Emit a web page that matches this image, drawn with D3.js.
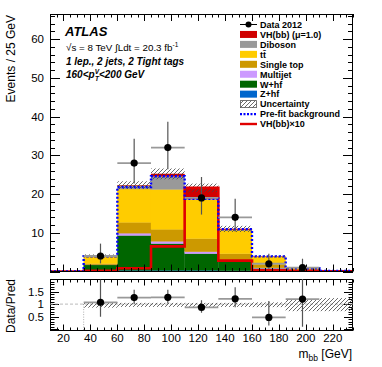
<!DOCTYPE html>
<html><head><meta charset="utf-8">
<script src="https://cdn.jsdelivr.net/npm/d3@7/dist/d3.min.js"></script>
<style>
html,body{margin:0;padding:0;background:#fff;}
svg text{font-family:"Liberation Sans",Arimo,Helvetica,Arial,sans-serif;}
</style></head>
<body>
<svg id="c" width="382" height="367"></svg>
<script>
// ---------------- data ----------------
const binLow = [10, 35, 60, 85, 110, 135, 160, 185, 210];
const binWidth = 25;
const zhf       = [0.02, 0.10, 0.3, 0.3, 0.3, 0.2, 0.10, 0.03, 0.01];
const whf       = [0.02, 1.60, 9.0, 6.9, 4.3, 2.4, 0.70, 0.12, 0.02];
const multijet  = [0.00, 0.05, 0.6, 0.6, 0.5, 0.2, 0.15, 0.05, 0.00];
const singletop = [0.01, 0.30, 2.8, 3.1, 3.4, 1.8, 0.80, 0.20, 0.02];
const ttbar     = [0.02, 1.90, 8.6, 10.3, 10.0, 6.1, 2.10, 0.45, 0.08];
const diboson   = [0.00, 0.05, 0.9, 3.4, 0.3, 0.1, 0.05, 0.02, 0.00];
const vh        = [0.00, 0.02, 0.1, 0.6, 2.8, 0.2, 0.02, 0.00, 0.00];
const uncert    = [0.03, 0.40, 1.0, 1.4, 1.1, 0.8, 0.30, 0.15, 0.05];
const prefit    = [0.03, 3.95, 21.8, 24.6, 18.8, 10.9, 3.9, 0.85, 0.15];
const vhx10     = [0.00, 0.20, 0.85, 6.5, 21.6, 2.8, 0.30, 0.15, 0.05];
const dataVal   = [0, 4, 28, 32, 19, 14, 2, 1, 0];
const dataErrLo = [0, 1.9, 5.3, 5.6, 4.3, 3.7, 1.3, 0.8, 0];
const dataErrHi = [0, 3.2, 6.3, 6.7, 5.4, 4.8, 2.6, 2.3, 0];
const ratioVal   = [null, 1.07, 1.26, 1.27, 0.87, 1.21, 0.47, 1.2, null];
const ratioErrLo = [null, 0.57, 0.27, 0.25, 0.21, 0.33, 0.32, 1.1, null];
const ratioErrHi = [null, 0.9, 0.31, 0.3, 0.28, 0.46, 0.65, 2.7, null];
const bandLo     = [null, 0.86, 0.89, 0.89, 0.89, 0.89, 0.88, 0.72, 0.72];
const bandHi     = [null, 1.08, 1.05, 1.05, 1.05, 1.05, 1.07, 1.20, 1.24];
const yTicksMain = [10, 20, 30, 40, 50, 60];
const yTicksRatio = [0.5, 1, 1.5];
const xTicks = [20, 40, 60, 80, 100, 120, 140, 160, 180, 200, 220];

const seriesKeys = ["zhf","whf","multijet","singletop","ttbar","diboson","vh"];
const seriesArr = {zhf, whf, multijet, singletop, ttbar, diboson, vh};
const colors = {vh:"#d00000", diboson:"#999999", ttbar:"#ffcc00", singletop:"#cc9900",
  multijet:"#cc99ff", whf:"#006600", zhf:"#0066cc"};

// ---------------- scales ----------------
const svg = d3.select("#c");
const X0 = 50, X1 = 353;
const xs = d3.scaleLinear().domain([10, 235]).range([X0, X1]);
const ys = d3.scaleLinear().domain([0, 66.5]).range([271.5, 14]);
const yr = d3.scaleLinear().domain([-0.05, 2.0]).range([330.5, 279]);

const defs = svg.append("defs");
const pat = defs.append("pattern").attr("id","hatch").attr("patternUnits","userSpaceOnUse")
  .attr("width",4).attr("height",4);
pat.append("path").attr("d","M-1,1 L1,-1 M0,4 L4,0 M3,5 L5,3").attr("stroke","#444").attr("stroke-width",0.8);
defs.append("clipPath").attr("id","clipMain").append("rect").attr("x",X0).attr("y",14).attr("width",X1-X0).attr("height",271.5-14);
defs.append("clipPath").attr("id","clipRatio").append("rect").attr("x",X0).attr("y",279).attr("width",X1-X0).attr("height",330.5-279);

// ---------------- stack ----------------
const table = binLow.map((lo,i)=>{const r={lo}; seriesKeys.forEach(k=>r[k]=seriesArr[k][i]); return r;});
const stacked = d3.stack().keys(seriesKeys)(table);
const gMain = svg.append("g").attr("clip-path","url(#clipMain)");
stacked.forEach(layer=>{
  gMain.append("g").selectAll("rect").data(layer).join("rect")
    .attr("x", d=>xs(d.data.lo)).attr("width", d=>xs(d.data.lo+binWidth)-xs(d.data.lo))
    .attr("y", d=>ys(d[1])).attr("height", d=>Math.max(0, ys(d[0])-ys(d[1])))
    .attr("fill", colors[layer.key]).attr("stroke", colors[layer.key]).attr("stroke-width",0.3);
});
const totals = binLow.map((_,i)=>d3.sum(seriesKeys,k=>seriesArr[k][i]));
gMain.append("g").selectAll("rect").data(binLow).join("rect")
  .attr("x", d=>xs(d)).attr("width", xs(binLow[1])-xs(binLow[0]))
  .attr("y", (d,i)=>ys(totals[i]+uncert[i]))
  .attr("height", (d,i)=>ys(Math.max(0,totals[i]-uncert[i]))-ys(totals[i]+uncert[i]))
  .attr("fill","url(#hatch)");

// step lines
function stepPoints(vals){
  const pts=[];
  vals.forEach((v,i)=>{pts.push([binLow[i],v]);pts.push([binLow[i]+binWidth,v]);});
  return pts;
}
const stepLine = d3.line().x(d=>xs(d[0])).y(d=>ys(d[1]));
gMain.append("path").attr("d", stepLine(stepPoints(vhx10))).attr("fill","none")
  .attr("stroke","#e00000").attr("stroke-width",2.6);
gMain.append("path").attr("d", stepLine(stepPoints(prefit))).attr("fill","none")
  .attr("stroke","#0000ff").attr("stroke-width",2.4).attr("stroke-dasharray","2,2");

// main axes ticks (inside)
const axG = svg.append("g").attr("stroke","#000").attr("stroke-width",1);
function yTicksIn(scale, x0, x1, from, to, step, majorEvery, majL, minL){
  for(let v=from; v<=to+1e-9; v+=step){
    const isMaj = Math.abs(Math.round(v/majorEvery)*majorEvery - v) < 1e-6;
    const L = isMaj?majL:minL; const y = Math.round(scale(v))+0.5;
    axG.append("line").attr("x1",x0).attr("x2",x0+L).attr("y1",y).attr("y2",y);
    axG.append("line").attr("x1",x1).attr("x2",x1-L).attr("y1",y).attr("y2",y);
  }
}
function xTicksIn(y0, y1, majL, minL){
  for(let v=10; v<=235; v+=5){
    const isMaj = v%20===0; const L=isMaj?majL:minL; const x=Math.round(xs(v))+0.5;
    axG.append("line").attr("x1",x).attr("x2",x).attr("y1",y0).attr("y2",y0-L);
    axG.append("line").attr("x1",x).attr("x2",x).attr("y1",y1).attr("y2",y1+L);
  }
}
yTicksIn(ys, X0, X1, 0, 66, 2, 10, 10, 5);
xTicksIn(271.5, 14, 7, 3.5);

// data points
const gData = svg.append("g");
binLow.forEach((lo,i)=>{
  if(dataVal[i]<=0) return;
  const cx = xs(lo+binWidth/2);
  gData.append("line").attr("x1",xs(lo)).attr("x2",xs(lo+binWidth)).attr("y1",ys(dataVal[i])).attr("y2",ys(dataVal[i]))
    .attr("stroke","#999").attr("stroke-width",1.8);
  gData.append("line").attr("x1",cx).attr("x2",cx).attr("y1",ys(dataVal[i]-dataErrLo[i])).attr("y2",ys(dataVal[i]+dataErrHi[i]))
    .attr("stroke","#555").attr("stroke-width",1.2);
  gData.append("circle").attr("cx",cx).attr("cy",ys(dataVal[i])).attr("r",3.6).attr("fill","#000");
});

// frames
svg.append("rect").attr("x",X0+0.5).attr("y",14.5).attr("width",X1-X0-1).attr("height",271.5-14.5)
  .attr("fill","none").attr("stroke","#000").attr("stroke-width",1);
svg.append("rect").attr("x",X0+0.5).attr("y",279.5).attr("width",X1-X0-1).attr("height",330.5-279.5)
  .attr("fill","none").attr("stroke","#000").attr("stroke-width",1);

// main y labels
svg.append("g").selectAll("text").data(yTicksMain).join("text")
  .attr("x",44).attr("y",d=>ys(d)+4).attr("text-anchor","end").attr("font-size",11.5).text(d=>d);
svg.append("text").attr("transform","translate(15,15) rotate(-90)").attr("text-anchor","end")
  .attr("font-size",12).text("Events / 25 GeV");

// ---------------- ratio ----------------
const gR = svg.append("g").attr("clip-path","url(#clipRatio)");
gR.append("line").attr("x1",X0).attr("x2",X1).attr("y1",yr(1)).attr("y2",yr(1))
  .attr("stroke","#aaa").attr("stroke-dasharray","3,2").attr("stroke-width",0.8);
gR.append("line").attr("x1",xs(35)).attr("x2",xs(35)).attr("y1",yr(1)).attr("y2",yr(-0.05))
  .attr("stroke","#999").attr("stroke-dasharray","1,1.5").attr("stroke-width",0.8);
gR.append("g").selectAll("rect").data(binLow).join("rect")
  .filter((d,i)=>bandLo[i]!==null)
  .attr("x",d=>xs(d)).attr("width",xs(binLow[1])-xs(binLow[0]))
  .attr("y",(d)=>yr(bandHi[binLow.indexOf(d)])).attr("height",d=>{const i=binLow.indexOf(d);return yr(bandLo[i])-yr(bandHi[i]);})
  .attr("fill","url(#hatch)");
binLow.forEach((lo,i)=>{
  if(ratioVal[i]===null) return;
  const cx=xs(lo+binWidth/2);
  gR.append("line").attr("x1",xs(lo)).attr("x2",xs(lo+binWidth)).attr("y1",yr(ratioVal[i])).attr("y2",yr(ratioVal[i]))
    .attr("stroke","#999").attr("stroke-width",1.8);
  gR.append("line").attr("x1",cx).attr("x2",cx).attr("y1",yr(ratioVal[i]-ratioErrLo[i])).attr("y2",yr(ratioVal[i]+ratioErrHi[i]))
    .attr("stroke","#555").attr("stroke-width",1.2);
  gR.append("circle").attr("cx",cx).attr("cy",yr(ratioVal[i])).attr("r",3.6).attr("fill","#000");
});
yTicksIn(yr, X0, X1, 0, 1.9, 0.1, 0.5, 9, 4.5);
xTicksIn(330.5, 279.5, 6, 3);
svg.append("g").selectAll("text").data(yTicksRatio).join("text")
  .attr("x",44).attr("y",d=>yr(d)+4).attr("text-anchor","end").attr("font-size",11.5).text(d=>d);
svg.append("g").selectAll("text").data(xTicks).join("text")
  .attr("x",d=>xs(d)).attr("y",342).attr("text-anchor","middle").attr("font-size",11.5).text(d=>d);
svg.append("text").attr("transform","translate(15,306) rotate(-90)").attr("text-anchor","middle")
  .attr("font-size",12).text("Data/Pred");
const mt = svg.append("text").attr("x",352).attr("y",358).attr("text-anchor","end").attr("font-size",12);
mt.append("tspan").text("m");
mt.append("tspan").attr("font-size",8.5).attr("dy",3).text("bb");
mt.append("tspan").attr("dy",-3).text(" [GeV]");

// ---------------- labels ----------------
svg.append("text").attr("x",65).attr("y",36).attr("font-size",13).attr("font-weight","bold")
  .attr("font-style","italic").text("ATLAS");
const t2 = svg.append("text").attr("x",66).attr("y",51).attr("font-size",9.8);
t2.append("tspan").text("√s = 8 TeV ∫Ldt = 20.3 fb");
t2.append("tspan").attr("font-size",6.5).attr("dy",-4).text("-1");
svg.append("text").attr("x",66).attr("y",65).attr("font-size",10).attr("font-weight","bold")
  .attr("font-style","italic").text("1 lep., 2 jets, 2 Tight tags");
const t4 = svg.append("text").attr("x",66).attr("y",78).attr("font-size",10).attr("font-weight","bold").attr("font-style","italic");
t4.append("tspan").text("160<p");
t4.append("tspan").attr("font-size",6.5).attr("dy",-4).text("V");
t4.append("tspan").attr("font-size",6.5).attr("dx",-4).attr("dy",7).text("T");
t4.append("tspan").attr("dy",-3).text("<200 GeV");

// ---------------- legend ----------------
const legendLabels = ["Data 2012","VH(bb) (μ=1.0)","Diboson","tt̄","Single top","Multijet","W+hf","Z+hf","Uncertainty","Pre-fit background","VH(bb)×10"];
const legendKinds  = ["data","vh","diboson","ttbar","singletop","multijet","whf","zhf","unc","prefit","vhx10"];
const lg = svg.append("g");
legendLabels.forEach((lab,i)=>{
  const y = 24.5 + i*9.95;
  const k = legendKinds[i];
  if(k==="data"){
    lg.append("line").attr("x1",240).attr("x2",257).attr("y1",y).attr("y2",y).attr("stroke","#000").attr("stroke-width",1);
    lg.append("circle").attr("cx",248.5).attr("cy",y).attr("r",3).attr("fill","#000");
  } else if(k==="unc"){
    lg.append("rect").attr("x",240.5).attr("y",y-3.5).attr("width",16).attr("height",7)
      .attr("fill","url(#hatch)").attr("stroke","#555").attr("stroke-width",0.8);
  } else if(k==="prefit"){
    lg.append("line").attr("x1",240).attr("x2",257).attr("y1",y).attr("y2",y).attr("stroke","#0000ff")
      .attr("stroke-width",2.2).attr("stroke-dasharray","2,1.5");
  } else if(k==="vhx10"){
    lg.append("line").attr("x1",240).attr("x2",257).attr("y1",y).attr("y2",y).attr("stroke","#e00000").attr("stroke-width",2.4);
  } else {
    lg.append("rect").attr("x",240).attr("y",y-3.5).attr("width",17).attr("height",7).attr("fill",colors[k]);
  }
  lg.append("text").attr("x",260).attr("y",y+3.3).attr("font-size",9).attr("font-weight","bold").text(lab);
});
</script>
</body></html>
